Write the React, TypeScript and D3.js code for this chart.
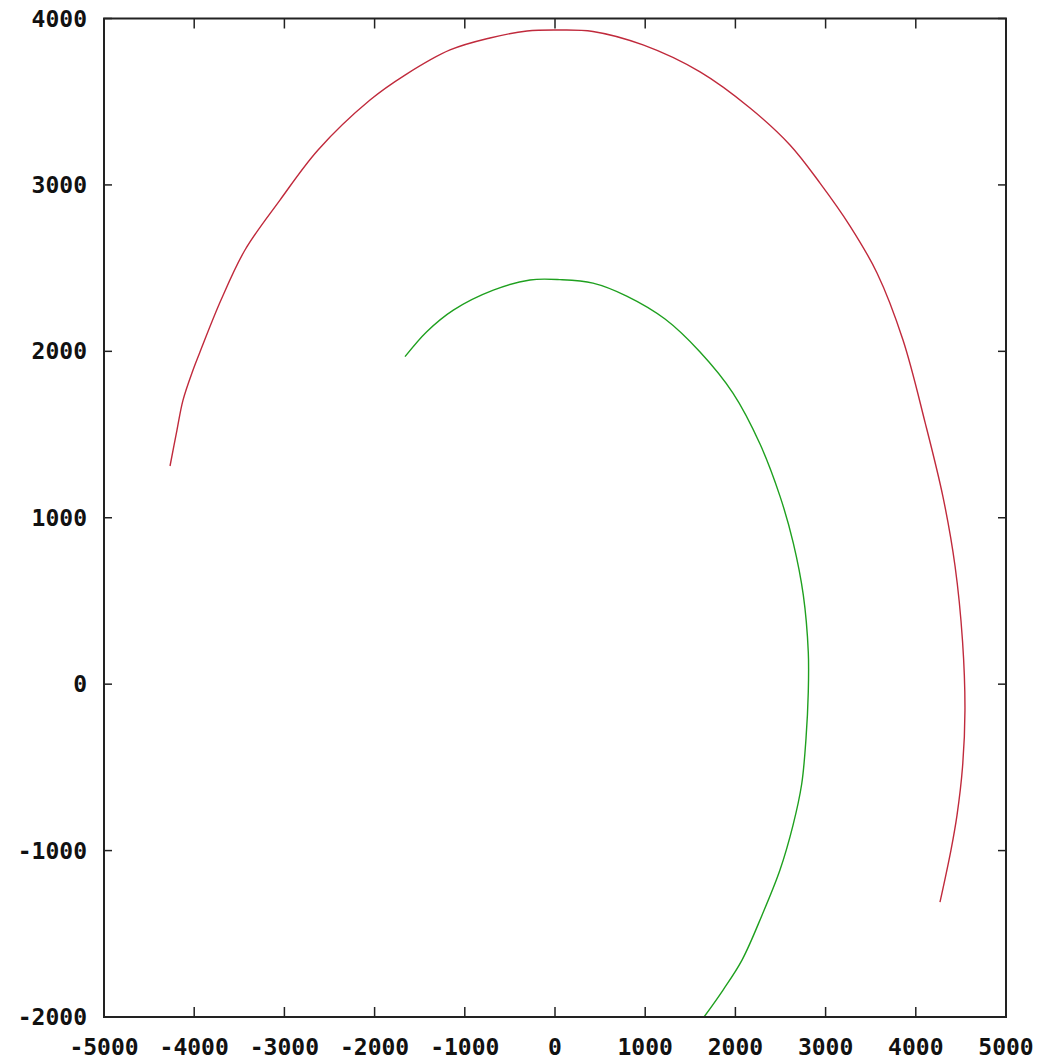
import React from "react";
import * as d3 from "d3";

// Outer trajectory (x, y) samples
const outerX = [-4268, -4191, -4124, -4013, -3936, -3703, -3437, -3049, -2627, -2051, -1663, -1164, -721, -310, 55, 421, 976, 1608, 2162, 2605, 2938, 3271, 3570, 3858, 4102, 4302, 4435, 4518, 4545, 4518, 4457, 4390, 4268];
const outerY = [1311, 1527, 1707, 1888, 1996, 2308, 2609, 2909, 3210, 3510, 3660, 3811, 3883, 3925, 3931, 3922, 3841, 3679, 3462, 3240, 3011, 2753, 2471, 2068, 1575, 1124, 710, 259, -156, -498, -787, -997, -1310];

// Inner trajectory (x, y) samples
const innerX = [-1663, -1422, -1127, -684, -277, 55, 421, 795, 1220, 1608, 1973, 2273, 2494, 2642, 2753, 2808, 2808, 2783, 2735, 2639, 2494, 2295, 2073, 1863, 1652];
const innerY = [1968, 2118, 2248, 2368, 2429, 2431, 2410, 2332, 2194, 1996, 1749, 1443, 1130, 848, 535, 193, -47, -324, -600, -847, -1117, -1388, -1658, -1838, -2000];

const xTicks = [-5000, -4000, -3000, -2000, -1000, 0, 1000, 2000, 3000, 4000, 5000];
const yTicks = [-2000, -1000, 0, 1000, 2000, 3000, 4000];

const W = 1045;
const H = 1059;
const left = 104;
const right = 1006;
const top = 18.5;
const bottom = 1017;

export default function App() {
  const x = d3.scaleLinear().domain([-5000, 5000]).range([left, right]);
  const y = d3.scaleLinear().domain([-2000, 4000]).range([bottom, top]);

  const line = d3
    .line<[number, number]>()
    .x((d) => x(d[0]))
    .y((d) => y(d[1]))
    .curve(d3.curveCatmullRom.alpha(0.5));

  const outer: [number, number][] = outerX.map((v, i) => [v, outerY[i]]);
  const inner: [number, number][] = innerX.map((v, i) => [v, innerY[i]]);

  const font = "'DejaVu Sans Mono', monospace";
  const axisColor = "#222";

  return (
    <svg
      width={W}
      height={H}
      style={{ position: "absolute", left: 0, top: 0, background: "#fff", display: "block" }}
    >
      <rect x={0} y={0} width={W} height={H} fill="#fff" />
      <defs>
        <clipPath id="plot-area">
          <rect x={left} y={top} width={right - left} height={bottom - top} />
        </clipPath>
      </defs>

      {/* tick marks on all four sides */}
      {xTicks.map((t) => (
        <g key={"xt" + t}>
          <line x1={x(t)} x2={x(t)} y1={bottom} y2={bottom - 10} stroke={axisColor} strokeWidth={1.5} />
          <line x1={x(t)} x2={x(t)} y1={top} y2={top + 10} stroke={axisColor} strokeWidth={1.5} />
        </g>
      ))}
      {yTicks.map((t) => (
        <g key={"yt" + t}>
          <line x1={left} x2={left + 8} y1={y(t)} y2={y(t)} stroke={axisColor} strokeWidth={1.5} />
          <line x1={right} x2={right - 8} y1={y(t)} y2={y(t)} stroke={axisColor} strokeWidth={1.5} />
        </g>
      ))}

      {/* curves */}
      <g clipPath="url(#plot-area)">
        <path d={line(outer) ?? ""} fill="none" stroke="#c02a3c" strokeWidth={1.4} />
        <path d={line(inner) ?? ""} fill="none" stroke="#1fa01f" strokeWidth={1.4} />
      </g>

      {/* frame */}
      <rect
        x={left}
        y={top}
        width={right - left}
        height={bottom - top}
        fill="none"
        stroke={axisColor}
        strokeWidth={2}
      />

      {/* tick labels */}
      {xTicks.map((t) => (
        <text
          key={"xl" + t}
          x={x(t)}
          y={1047}
          textAnchor="middle"
          dominantBaseline="central"
          fontFamily={font}
          fontWeight="bold"
          fontSize={23}
          fill="#111"
        >
          {t}
        </text>
      ))}
      {yTicks.map((t) => (
        <text
          key={"yl" + t}
          x={87}
          y={y(t)}
          textAnchor="end"
          dominantBaseline="central"
          fontFamily={font}
          fontWeight="bold"
          fontSize={23}
          fill="#111"
        >
          {t}
        </text>
      ))}
    </svg>
  );
}
